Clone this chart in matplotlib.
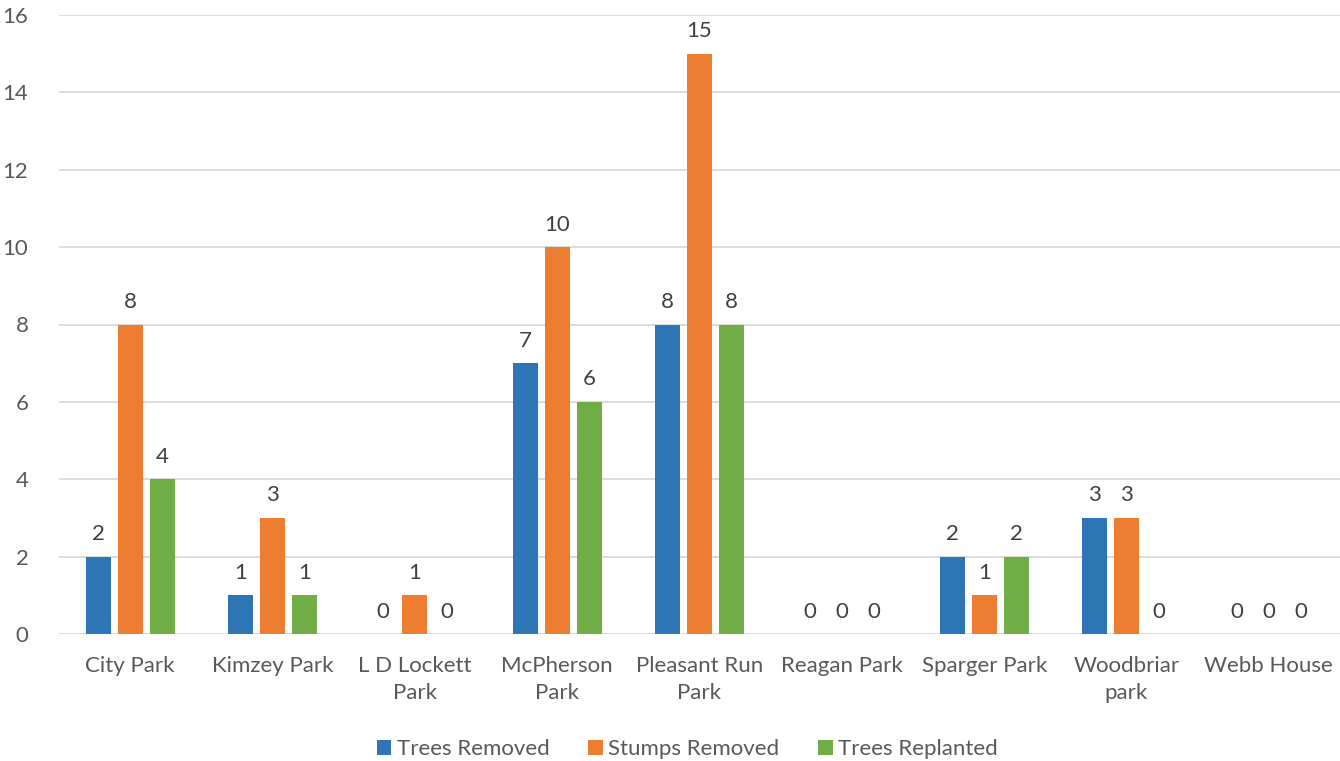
import matplotlib
matplotlib.use("Agg")
import matplotlib.pyplot as plt
import numpy as np

categories = ["City Park", "Kimzey Park", "L D Lockett\nPark", "McPherson\nPark",
              "Pleasant Run\nPark", "Reagan Park", "Sparger Park", "Woodbriar\npark", "Webb House"]
trees_removed = [2, 1, 0, 7, 8, 0, 2, 3, 0]
stumps_removed = [8, 3, 1, 10, 15, 0, 1, 3, 0]
trees_replanted = [4, 1, 0, 6, 8, 0, 2, 0, 0]
series_names = ["Trees Removed", "Stumps Removed", "Trees Replanted"]
colors = ["#2E75B6", "#ED7D31", "#70AD47"]
yticks = [0, 2, 4, 6, 8, 10, 12, 14, 16]

plt.rcParams["font.family"] = ["Lato", "DejaVu Sans"]

fig = plt.figure(figsize=(13.4, 7.61), dpi=100)
ax = fig.add_axes([59/1340, 1-634/761, 1-59/1340, (634-15)/761])

x = np.arange(len(categories))
width = 0.176
step = 0.225
for i, (vals, name, c) in enumerate(zip([trees_removed, stumps_removed, trees_replanted], series_names, colors)):
    pos = x + (i - 1) * step
    ax.bar(pos, vals, width, color=c, label=name, zorder=3)
    for p, v in zip(pos, vals):
        ax.annotate(str(v), (p, v), xytext=(0, 9), textcoords="offset points",
                    ha="center", va="bottom", fontsize=16, color="#404040")

ax.set_xlim(-0.5, len(categories) - 0.5)
ax.set_ylim(0, 16)
ax.set_yticks(yticks)
ax.set_xticks(x)
ax.set_xticklabels(categories, linespacing=1.45)
ax.tick_params(axis="both", length=0, labelsize=16, colors="#595959")
ax.tick_params(axis="y", pad=22)
ax.tick_params(axis="x", pad=16)
ax.grid(axis="y", color="#D9D9D9", linewidth=1.3, zorder=0)
for s in ax.spines.values():
    s.set_visible(False)

fig.legend(loc="lower center", ncol=3, frameon=False, fontsize=16,
           bbox_to_anchor=(0.513, -0.024), handlelength=0.65, handleheight=0.65,
           handletextpad=0.25, columnspacing=1.75, labelcolor="#595959")

fig.savefig("out.png", dpi=100)
